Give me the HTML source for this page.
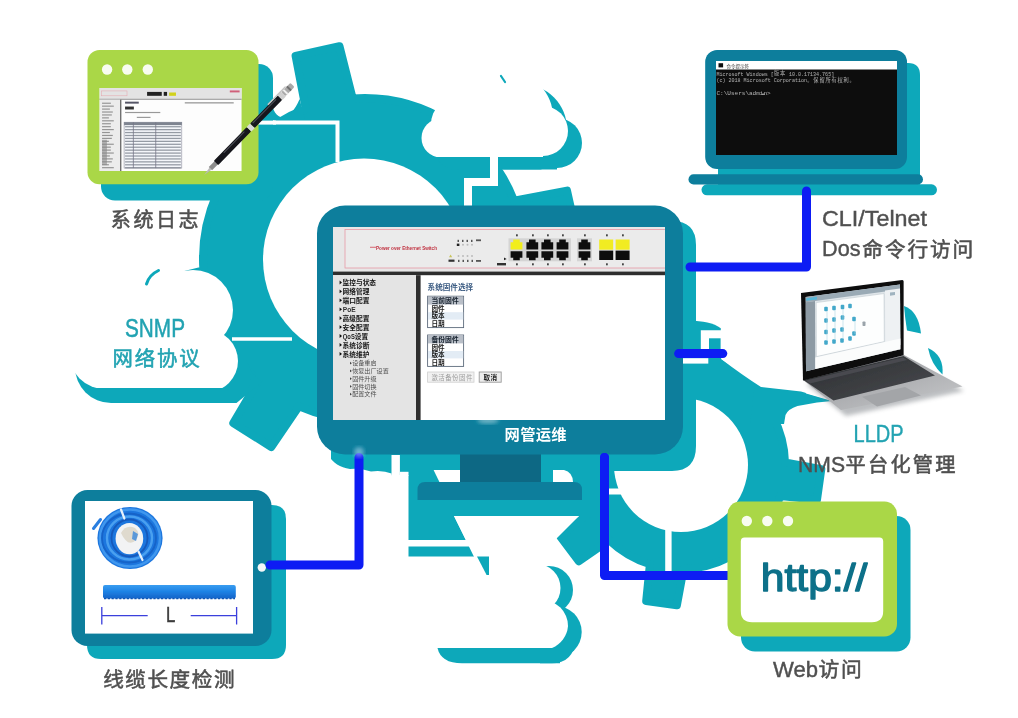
<!DOCTYPE html>
<html lang="zh-CN">
<head>
<meta charset="utf-8">
<title>网管运维</title>
<style>
html,body{margin:0;padding:0;background:#fff;}
body{width:1018px;height:718px;overflow:hidden;font-family:"Liberation Sans",sans-serif;}
svg{display:block;}
text{font-family:"Liberation Sans",sans-serif;}
text.mono{font-family:"Liberation Mono",monospace;}
text.cjk{font-family:"Liberation Sans","Noto Sans CJK SC",sans-serif;}
</style>
</head>
<body>
<svg width="1018" height="718" viewBox="0 0 1018 718">
<defs>

<clipPath id="cpA"><rect x="380" y="40" width="240" height="117"/></clipPath>
<clipPath id="cpAs"><rect x="380" y="40" width="240" height="129.5"/></clipPath>
<clipPath id="cpB"><rect x="40" y="240" width="230" height="148"/></clipPath>
<clipPath id="cpBs"><rect x="40" y="240" width="230" height="163"/></clipPath>
<clipPath id="cpScreen"><rect x="333" y="227" width="332" height="193"/></clipPath>
<filter id="blur05" x="-5%" y="-5%" width="110%" height="110%"><feGaussianBlur stdDeviation="0.5"/></filter>
<filter id="blur04" x="-5%" y="-5%" width="110%" height="110%"><feGaussianBlur stdDeviation="0.4"/></filter>
<filter id="blur08" x="-5%" y="-5%" width="110%" height="110%"><feGaussianBlur stdDeviation="0.8"/></filter>
<filter id="soft" filterUnits="userSpaceOnUse" x="-10" y="-10" width="1038" height="738"><feGaussianBlur stdDeviation="0.45"/></filter>
<filter id="blur2" x="-20%" y="-20%" width="140%" height="140%"><feGaussianBlur stdDeviation="2"/></filter>
<linearGradient id="cableG" x1="0" y1="0" x2="0" y2="1"><stop offset="0" stop-color="#3a9df0"/><stop offset="0.45" stop-color="#1f84e6"/><stop offset="1" stop-color="#1463c8"/></linearGradient>
<linearGradient id="kbG" x1="0" y1="0" x2="1" y2="1"><stop offset="0" stop-color="#2b2d30"/><stop offset="1" stop-color="#4a4c50"/></linearGradient>
<linearGradient id="baseG" x1="0" y1="0" x2="1" y2="1"><stop offset="0" stop-color="#8f9195"/><stop offset="1" stop-color="#c9cacc"/></linearGradient>

</defs>
<g filter="url(#soft)">
<rect width="1018" height="718" fill="#fff"/>
<path d="M352.7 98.4L339.5 46.2L295.6 56.0L305.8 108.9A161 161 0 0 0 242.4 153.4L196.2 125.9L172.1 163.9L216.7 194.0A161 161 0 0 0 203.4 270.3L151.2 283.5L161.0 327.4L213.9 317.2A161 161 0 0 0 258.4 380.6L233.3 423.0L271.3 447.1L299.0 406.3A161 161 0 0 0 375.3 419.6L388.5 471.8L432.4 462.0L422.2 409.1A161 161 0 0 0 485.6 364.6L531.8 392.1L555.9 354.1L511.3 324.0A161 161 0 0 0 524.6 247.7L576.8 234.5L567.0 190.6L514.1 200.8A161 161 0 0 0 352.7 98.4Z" fill="#0ea8ba" stroke="#0ea8ba" stroke-width="8" stroke-linejoin="round"/>
<circle cx="364" cy="259.5" r="101" fill="#fff"/>
<path d="M271 98C272 111 277 117.2 282.5 117.2C289 117.2 295 110 299.6 99L305.2 120.6H271Z" fill="#0ea8ba"/>
<path d="M258 122.6H337.5V162" fill="none" stroke="#fff" stroke-width="4"/>
<path d="M232 339H292" fill="none" stroke="#fff" stroke-width="3.5"/>
<path d="M773.2 416.8L801.7 393.4L783.1 368.7L752.7 389.7A104 104 0 0 0 632.8 372.8L609.4 344.3L584.7 362.9L605.7 393.3A104 104 0 0 0 581.8 433.9L545.0 430.2L540.7 460.9L577.0 467.6A104 104 0 0 0 588.8 513.2L560.3 536.6L578.9 561.3L609.3 540.3A104 104 0 0 0 649.9 564.2L646.2 601.0L676.9 605.3L683.6 569.0A104 104 0 0 0 729.2 557.2L752.6 585.7L777.3 567.1L756.3 536.7A104 104 0 0 0 780.2 496.1L817.0 499.8L821.3 469.1L785.0 462.4A104 104 0 0 0 773.2 416.8Z" fill="#0ea8ba" stroke="#0ea8ba" stroke-width="8" stroke-linejoin="round"/>
<path d="M690 349.5H721.3V359L765 388V420H690Z" fill="#0ea8ba"/>
<path d="M755 383L761 387.5L801 392L832 401L817 402.5L797.5 406Q788 409 785.5 415L784 424H750Z" fill="#0ea8ba"/>
<circle cx="681" cy="465" r="67" fill="#fff"/>
<path d="M668.4 528V574" fill="none" stroke="#fff" stroke-width="6.4"/>
<path d="M608 491.5H625" fill="none" stroke="#fff" stroke-width="6"/>
<path d="M408.5 455H600V516H454L466 540H408.5Z" fill="#0ea8ba"/>
<path d="M408.5 546.6H470.5L475.5 556.6H408.5Z" fill="#0ea8ba"/>
<g clip-path="url(#cpAs)"><g fill="#0ea8ba"><circle cx="522" cy="129" r="45"/><circle cx="472" cy="136" r="27"/><circle cx="455" cy="150" r="19.5"/><circle cx="557" cy="143" r="25"/><rect x="455" y="120" width="102" height="50"/></g></g>
<g clip-path="url(#cpA)"><g fill="#fff"><circle cx="508" cy="117" r="45"/><circle cx="458" cy="124" r="27"/><circle cx="441" cy="138" r="19.5"/><circle cx="543" cy="131" r="25"/><rect x="441" y="120" width="102" height="37"/></g></g>
<path d="M501 76l4 6" stroke="#0ea8ba" stroke-width="2.2" stroke-linecap="round" fill="none"/>
<path d="M494 150V182H468V207" fill="none" stroke="#fff" stroke-width="8"/>
<path d="M230 352L262 382L236.5 403H222Z" fill="#0ea8ba"/>
<g clip-path="url(#cpBs)"><g fill="#0ea8ba"><circle cx="213" cy="375" r="31"/><circle cx="111" cy="367" r="36"/><circle cx="222" cy="376" r="29"/><rect x="111" y="340" width="102" height="63"/></g></g>
<g clip-path="url(#cpB)"><g fill="#fff"><circle cx="193" cy="310" r="40"/><circle cx="160" cy="306" r="43"/><circle cx="207" cy="361" r="31"/><circle cx="105" cy="353" r="36"/><rect x="105" y="330" width="102" height="58"/></g></g>
<path d="M146.5 284q2.5 -9 12 -13.5" stroke="#0ea8ba" stroke-width="3" stroke-linecap="round" fill="none"/>
<path d="M690 320.5C702 321 714 323 720.8 328.2V330.2H690Z" fill="#0ea8ba"/>
<rect x="690" y="330" width="10.8" height="30" fill="#0ea8ba"/>
<rect x="709" y="338.3" width="11.6" height="12" fill="#0ea8ba"/>
<path d="M721.5 296V359.3Q742 375 761 387L801 391.5L832 400.5H965V296Z" fill="#fff"/>
<path d="M904 306Q918.5 311 921 333.5L907 330.5Q905 318 904 306Z" fill="#0ea8ba"/>
<path d="M928 348Q944 355 942.5 374.5Q931 364 928 348Z" fill="#0ea8ba"/>
<g fill="#0ea8ba"><circle cx="549" cy="590" r="24"/><circle cx="555.7" cy="632" r="26"/><path d="M437.5 648H560V663.3H462Q441 663.3 437.5 648Z"/><path d="M540 640H576Q573 663.3 552 663.3H540Z"/></g>
<g fill="#fff"><circle cx="536.5" cy="588" r="24"/><path d="M520 600H542A26 26 0 0 1 568 626A26 26 0 0 1 552 648H520Z"/><path d="M454 516H579L556.5 538.5L549 566H478.5Z"/><rect x="436" y="572" width="100" height="76"/><path d="M484 560H540V600H470Z"/></g>
<path d="M477 556.6H489V575H486.6Z" fill="#0ea8ba"/>
<rect x="101" y="64" width="172" height="136.5" rx="14" ry="14" fill="#0ea8ba"/>
<path d="M256 122.6H276" stroke="#fff" stroke-width="4" fill="none"/>
<rect x="87.5" y="50" width="171" height="134.3" rx="12" ry="12" fill="#aad746"/>
<circle cx="107.1" cy="69.5" r="5.2" fill="#fff" fill-opacity="0.92"/>
<circle cx="127.3" cy="69.5" r="5.2" fill="#fff" fill-opacity="0.92"/>
<circle cx="147.8" cy="69.5" r="5.2" fill="#fff" fill-opacity="0.92"/>
<g id="syslog" transform="translate(99.6 88) scale(0.979 0.9765) translate(-98 -86)">
<rect x="98" y="86" width="145" height="85" fill="#fdfdfd"/>
<rect x="98" y="86" width="145" height="11" fill="#e3e3e3"/>
<rect x="98" y="97" width="145" height="1" fill="#8a8a8a"/>
<rect x="100" y="89" width="26" height="5" fill="none" stroke="#e6a0a8" stroke-width="0.5"/>
<rect x="146.5" y="90" width="15" height="4" fill="#222"/><rect x="163.5" y="90" width="3.4" height="4" fill="#222"/><rect x="169" y="90.6" width="7" height="3.4" fill="#d2d21c"/>
<rect x="231" y="88.5" width="10" height="2" fill="#d0607a"/>
<rect x="98" y="98" width="21" height="73" fill="#ececec"/>
<rect x="119" y="98" width="1.2" height="73" fill="#555"/>
<rect x="100.5" y="101" width="9" height="1.2" fill="#777" opacity="0.75"/>
<rect x="100.5" y="104" width="12" height="1.2" fill="#777" opacity="0.75"/>
<rect x="100.5" y="107" width="8" height="1.2" fill="#777" opacity="0.75"/>
<rect x="100.5" y="110" width="11" height="1.2" fill="#777" opacity="0.75"/>
<rect x="100.5" y="113" width="10" height="1.2" fill="#777" opacity="0.75"/>
<rect x="100.5" y="116" width="7" height="1.2" fill="#777" opacity="0.75"/>
<rect x="100.5" y="119" width="12" height="1.2" fill="#777" opacity="0.75"/>
<rect x="100.5" y="122" width="9" height="1.2" fill="#777" opacity="0.75"/>
<rect x="100.5" y="125" width="9" height="1.2" fill="#777" opacity="0.75"/>
<rect x="100.5" y="128" width="12" height="1.2" fill="#777" opacity="0.75"/>
<rect x="100.5" y="131" width="8" height="1.2" fill="#777" opacity="0.75"/>
<rect x="100.5" y="134" width="11" height="1.2" fill="#777" opacity="0.75"/>
<rect x="100.5" y="137" width="10" height="1.2" fill="#777" opacity="0.75"/>
<rect x="100.5" y="140" width="7" height="1.2" fill="#777" opacity="0.75"/>
<rect x="100.5" y="143" width="12" height="1.2" fill="#777" opacity="0.75"/>
<rect x="100.5" y="146" width="9" height="1.2" fill="#777" opacity="0.75"/>
<rect x="100.5" y="149" width="9" height="1.2" fill="#777" opacity="0.75"/>
<rect x="100.5" y="152" width="12" height="1.2" fill="#777" opacity="0.75"/>
<rect x="100.5" y="155" width="8" height="1.2" fill="#777" opacity="0.75"/>
<rect x="100.5" y="158" width="11" height="1.2" fill="#777" opacity="0.75"/>
<rect x="100.5" y="161" width="10" height="1.2" fill="#777" opacity="0.75"/>
<rect x="100.5" y="164" width="7" height="1.2" fill="#777" opacity="0.75"/>
<rect x="100.5" y="167" width="12" height="1.2" fill="#777" opacity="0.75"/>
<rect x="100.5" y="139" width="5" height="26" fill="#888" opacity="0.6"/>
<rect x="124" y="100" width="14" height="2" fill="#556"/>
<rect x="124" y="105" width="9" height="3" fill="#333"/>
<rect x="185" y="100.5" width="50" height="1.4" fill="#777" opacity="0.7"/>
<rect x="124" y="110.5" width="36" height="1.2" fill="#999"/>
<rect x="136" y="115.5" width="14" height="1.2" fill="#999"/>
<rect x="123" y="121" width="59" height="47" fill="#f4f6fa" stroke="#778" stroke-width="0.5"/>
<rect x="123" y="121" width="59" height="3" fill="#7e8490"/>
<rect x="124" y="125" width="57" height="1.3" fill="#5b6270" opacity="0.62"/>
<rect x="124" y="128" width="57" height="1.3" fill="#5b6270" opacity="0.62"/>
<rect x="124" y="131" width="57" height="1.3" fill="#5b6270" opacity="0.62"/>
<rect x="124" y="134" width="57" height="1.3" fill="#5b6270" opacity="0.62"/>
<rect x="124" y="137" width="57" height="1.3" fill="#5b6270" opacity="0.62"/>
<rect x="124" y="140" width="57" height="1.3" fill="#5b6270" opacity="0.62"/>
<rect x="124" y="143" width="57" height="1.3" fill="#5b6270" opacity="0.62"/>
<rect x="124" y="146" width="57" height="1.3" fill="#5b6270" opacity="0.62"/>
<rect x="124" y="149" width="57" height="1.3" fill="#5b6270" opacity="0.62"/>
<rect x="124" y="152" width="57" height="1.3" fill="#5b6270" opacity="0.62"/>
<rect x="124" y="155" width="57" height="1.3" fill="#5b6270" opacity="0.62"/>
<rect x="124" y="158" width="57" height="1.3" fill="#5b6270" opacity="0.62"/>
<rect x="124" y="161" width="57" height="1.3" fill="#5b6270" opacity="0.62"/>
<rect x="124" y="164" width="57" height="1.3" fill="#5b6270" opacity="0.62"/>
<rect x="124" y="167" width="57" height="1.3" fill="#5b6270" opacity="0.62"/>
<rect x="132" y="121" width="0.8" height="47" fill="#778"/><rect x="155" y="121" width="0.8" height="47" fill="#778"/>
</g>
<g id="pen" transform="translate(204.2 175) rotate(-45.6) scale(0.985 0.9)"><path d="M0 0L9 -1.6V1.6Z" fill="#b9b9b9"/><rect x="9" y="-2.6" width="8" height="5.2" fill="#8d8d8d"/><rect x="17" y="-3.4" width="48" height="6.8" rx="1" fill="#15161a"/><rect x="65" y="-3.7" width="5" height="7.4" fill="#d9d9d9"/><rect x="70" y="-3.5" width="40" height="7" rx="1" fill="#17181c"/><rect x="30" y="-2.4" width="30" height="1.2" fill="#5a5d66" opacity="0.8"/><rect x="72" y="-2.4" width="34" height="1.2" fill="#5a5d66" opacity="0.8"/><rect x="110" y="-3.8" width="5" height="7.6" fill="#cfcfcf"/><rect x="115" y="-3.3" width="13" height="6.6" rx="1.5" fill="#a9a9a9"/><rect x="117" y="-3.3" width="2" height="6.6" fill="#f0f0f0"/><rect x="122" y="-3.3" width="2" height="6.6" fill="#6f6f6f"/><rect x="96" y="-5" width="26" height="1.8" rx="0.9" fill="#c4c4c4"/></g>
<path d="M718 63H908Q920 63 920 75V190H718Z" fill="#0ea8ba"/>
<rect x="701.5" y="184.3" width="235.5" height="11" rx="5.5" ry="5.5" fill="#0ea8ba"/>
<rect x="705.2" y="50" width="201.8" height="119" rx="12" ry="12" fill="#087e9c"/>
<rect x="688.5" y="174.3" width="234.5" height="10.2" rx="5.1" ry="5.1" fill="#087e9c"/>
<rect x="716" y="61" width="181" height="94" fill="#0c0c0c"/>
<rect x="716" y="61" width="181" height="8.5" fill="#fff"/>
<rect x="718.5" y="63.2" width="4.6" height="4.2" fill="#111"/>
<g filter="url(#blur04)"><text class="cjk" x="726.6" y="67.6" font-size="4.5" fill="#333" textLength="22.5" lengthAdjust="spacing">命令提示符</text></g>
<g filter="url(#blur05)" opacity="0.72">
<text class="mono" x="716.40" y="75.6" font-size="5.03" fill="#ececec" textLength="57.38" lengthAdjust="spacingAndGlyphs" xml:space="preserve">Microsoft Windows [</text>
<text class="cjk" x="774.08" y="75.4" font-size="5.2" fill="#ececec" textLength="11.24" lengthAdjust="spacing">版本</text>
<text class="mono" x="785.86" y="75.6" font-size="5.03" fill="#ececec" textLength="48.32" lengthAdjust="spacingAndGlyphs" xml:space="preserve"> 10.0.17134.765]</text>
<text class="mono" x="716.40" y="82.4" font-size="5.03" fill="#ececec" textLength="90.60" lengthAdjust="spacingAndGlyphs" xml:space="preserve">(c) 2018 Microsoft Corporation</text>
<circle cx="808.20" cy="81.80000000000001" r="0.7" fill="none" stroke="#ececec" stroke-width="0.35"/><text class="cjk" x="813.34" y="82.2" font-size="5.2" fill="#ececec" textLength="35.4" lengthAdjust="spacing">保留所有权利</text><circle cx="850.48" cy="81.80000000000001" r="0.7" fill="none" stroke="#ececec" stroke-width="0.35"/>
<text class="mono" x="716.40" y="94.6" font-size="5.03" fill="#ececec" textLength="54.36" lengthAdjust="spacingAndGlyphs" xml:space="preserve">C:\Users\admin&gt;</text>
<rect x="762.10" y="93.6" width="2.6" height="1.2" fill="#f4f4f4"/>
</g>
<path d="M100 505H272Q286 505 286 519V645Q286 659 272 659H101Q87 659 87 645Z" fill="#0ea8ba"/>
<rect x="71.5" y="490" width="200" height="156" rx="16" ry="16" fill="#087e9c"/>
<rect x="85" y="501" width="168" height="132.6" fill="#fff"/>
<circle cx="261.8" cy="567.5" r="4.2" fill="#f4f7f8"/>
<g id="coil"><ellipse cx="130" cy="538" rx="32.6" ry="31" fill="#1d76de"/><ellipse cx="130" cy="538" rx="30" ry="28.5" fill="none" stroke="#3f97ee" stroke-width="2.6"/><ellipse cx="129" cy="538" rx="27" ry="24.5" fill="none" stroke="#1663c8" stroke-width="1.8"/><ellipse cx="129.5" cy="538" rx="22.5" ry="21.5" fill="none" stroke="#4aa0f0" stroke-width="2.4"/><ellipse cx="129.5" cy="538" rx="18" ry="18.5" fill="none" stroke="#1459ba" stroke-width="1.8"/><ellipse cx="129.4" cy="538.6" rx="13.8" ry="15.6" fill="#f2f3f4"/><path d="M121 533q5 -9 14 -5q6 5 1 12q-8 8 -15 -7z" fill="#d9d3c4" opacity="0.8"/><path d="M133 531l5 3l-2 7l-4 -2z" fill="#2e82dc" opacity="0.75"/><path d="M121 509.5l3.4 9" stroke="#e8f1fb" stroke-width="2.2" stroke-linecap="round"/><path d="M138.5 551.5l4 8.5" stroke="#e8f1fb" stroke-width="2.2" stroke-linecap="round"/><path d="M93.5 528.5l7 -9" stroke="#2a7fe0" stroke-width="3" stroke-linecap="round"/></g>
<rect x="103" y="585" width="132.8" height="13.6" rx="2" fill="url(#cableG)"/>
<path d="M104 598.6h131" stroke="#0f55b4" stroke-width="1.4" stroke-dasharray="2.2 1.6"/>
<path d="M101.8 607V624.5M236.6 607V624.5M101.8 615.7H147.7M190.7 615.7H236.6" stroke="#3a3fdc" stroke-width="1.3" fill="none"/>
<text x="165.9" y="621.8" font-size="22.5" fill="#3c3c3c" stroke="#3c3c3c" stroke-width="0.5" textLength="9.3" lengthAdjust="spacingAndGlyphs">L</text>
<path d="M345 221H672Q696 221 696 245V446Q696 471 672 471H600V475H345Q331 475 331 459V440Z" fill="#0ea8ba"/>
<path d="M433.6 470H460V482H439.4Z" fill="#fff"/>
<path d="M553 470H564Q572.5 472 573 482H553Z" fill="#fff"/>
<rect x="391.5" y="455" width="8.4" height="21" fill="#fff"/><rect x="399.9" y="471.8" width="8.6" height="4" fill="#fff"/>
<path d="M328 455C333 463 340 467.5 350 469Q361 468 371 471.5Q383 470 391.6 473.6V482H328Z" fill="#fff"/>
<rect x="460" y="450" width="81" height="32" rx="0" ry="0" fill="#076884"/>
<path d="M425 482H574Q582 482 582 490V500H417.5V490Q417.5 482 425 482Z" fill="#087e9c"/>
<rect x="317" y="205.5" width="366" height="249" rx="28" ry="28" fill="#087e9c"/>
<rect x="683" y="358.2" width="25.3" height="5.4" fill="#fff"/>
<path d="M806.5 191V267H690" fill="none" stroke="#0f1df4" stroke-width="9" stroke-linecap="round" stroke-linejoin="round"/>
<path d="M678.6 353.6H722.8" fill="none" stroke="#0f1df4" stroke-width="9" stroke-linecap="round" stroke-linejoin="round" stroke-width="7.7"/>
<path d="M359 457.5V565H270" fill="none" stroke="#0f1df4" stroke-width="9" stroke-linecap="round" stroke-linejoin="round"/>
<path d="M604.5 457.5V575.5H728" fill="none" stroke="#0f1df4" stroke-width="9" stroke-linecap="round" stroke-linejoin="round" stroke-linecap="butt"/>
<circle cx="604.5" cy="457.5" r="4.5" fill="#0f1df4"/>
<rect x="741" y="516" width="169.5" height="135.6" rx="14" ry="14" fill="#0ea8ba"/>
<rect x="727.5" y="501.5" width="169.5" height="135" rx="12.5" ry="12.5" fill="#aad746"/>
<path d="M744.5 537.5H879.5Q883.2 537.5 883.2 541.5V611Q883.2 622.2 872 622.2H752Q740.8 622.2 740.8 611V541.5Q740.8 537.5 744.5 537.5Z" fill="#fff"/>
<circle cx="746.8" cy="521" r="5.2" fill="#fff" fill-opacity="0.92"/>
<circle cx="767.3" cy="521" r="5.2" fill="#fff" fill-opacity="0.92"/>
<circle cx="788" cy="521" r="5.2" fill="#fff" fill-opacity="0.92"/>
<text x="760.8" y="590.8" font-size="38" fill="#0b7089" stroke="#0b7089" stroke-width="1.3" stroke-linejoin="round" textLength="106.6" lengthAdjust="spacingAndGlyphs">http://</text>
<g id="macbook">
<path d="M806 384L906 360L964 391L846 416Z" fill="#6b7076" opacity="0.45" filter="url(#blur2)"/>
<path d="M802.5 379.5L904 355L962.5 386.5L841 410Z" fill="url(#baseG)"/>
<path d="M803.5 380L903.5 356L935 375.5L833.5 400.5Z" fill="url(#kbG)"/>
<path d="M806 380.6L903 357.6L907 360L810 383.4Z" fill="#4a4d52" opacity="0.9"/>
<path d="M862 396.8L905 387L921 395.6L877 406.6Z" fill="#a3a5a8"/>
<path d="M801 293L902.4 280Q903.6 280 903.6 281.5L903.6 355.3L803 380.4Z" fill="#0d0e10"/>
<path d="M805.7 297L900 284.4L900.4 349.3L806 371.3Z" fill="#dfe5e9"/>
<path d="M805.7 297L900 284.4L900.05 289.6L805.75 302.2Z" fill="#9aaab5"/>
<path d="M805.75 302.2L815 301L815.3 369.1L806 371.3Z" fill="#8d9aa4"/>
<path d="M806.2 298.2L817 296.8L817 299.4L806.2 300.8Z" fill="#58b7d8"/>
<path d="M816.2 302.6L884 293.6L884.3 341.6L816.4 356.6Z" fill="#fdfefe" stroke="#b9c2c9" stroke-width="0.5"/>
<path d="M885 290.6L900 288.6L900.35 345L885.3 348.4Z" fill="#eef1f3"/>
<path d="M886.5 347L899 344.2L899.1 349.6L886.6 352.6Z" fill="#3f4246"/>
<path d="M815.3 357.6L900.38 338.5L900.4 349.3L815.35 369.1Z" fill="#fbfcfc"/>
<path d="M890 292.6l5 -0.7l0 3l-5 0.8z" fill="#9fb3bf"/>
<rect x="824.2" y="306.8" width="3.6" height="4.4" rx="1" fill="#2f9fc4" opacity="0.9"/>
<rect x="832.2" y="305.8" width="3.6" height="4.4" rx="1" fill="#2f9fc4" opacity="0.9"/>
<rect x="840.7" y="304.8" width="3.6" height="4.4" rx="1" fill="#2f9fc4" opacity="0.9"/>
<rect x="848.2" y="303.8" width="3.6" height="4.4" rx="1" fill="#2f9fc4" opacity="0.9"/>
<rect x="824.2" y="318.3" width="3.6" height="4.4" rx="1" fill="#2f9fc4" opacity="0.9"/>
<rect x="832.2" y="317.3" width="3.6" height="4.4" rx="1" fill="#2f9fc4" opacity="0.9"/>
<rect x="840.7" y="315.3" width="3.6" height="4.4" rx="1" fill="#2f9fc4" opacity="0.9"/>
<rect x="852.2" y="316.8" width="3.6" height="4.4" rx="1" fill="#2f9fc4" opacity="0.9"/>
<rect x="824.2" y="329.8" width="3.6" height="4.4" rx="1" fill="#2f9fc4" opacity="0.9"/>
<rect x="832.2" y="328.3" width="3.6" height="4.4" rx="1" fill="#2f9fc4" opacity="0.9"/>
<rect x="840.2" y="327.3" width="3.6" height="4.4" rx="1" fill="#2f9fc4" opacity="0.9"/>
<rect x="852.2" y="331.3" width="3.6" height="4.4" rx="1" fill="#2f9fc4" opacity="0.9"/>
<rect x="824.2" y="340.3" width="3.6" height="4.4" rx="1" fill="#2f9fc4" opacity="0.9"/>
<rect x="832.2" y="339.3" width="3.6" height="4.4" rx="1" fill="#2f9fc4" opacity="0.9"/>
<rect x="840.2" y="338.3" width="3.6" height="4.4" rx="1" fill="#2f9fc4" opacity="0.9"/>
<rect x="848.2" y="336.3" width="3.6" height="4.4" rx="1" fill="#2f9fc4" opacity="0.9"/>
<rect x="862.5" y="321.5" width="3" height="4.6" rx="0.8" fill="#9aa3aa"/>
<path d="M827 311V341M835 310V340M843 309V339M855 321V334" stroke="#a9d4e4" stroke-width="0.7" fill="none" opacity="0.8"/>
</g>
<g id="screen" clip-path="url(#cpScreen)">
<rect x="333" y="227" width="332" height="193" fill="#fff"/>
<rect x="333" y="227" width="332" height="45" fill="#e7e7e7"/>
<rect x="345" y="229.5" width="330" height="38.5" fill="#ebebeb" stroke="#e79aa6" stroke-width="0.8"/>
<rect x="333" y="271.6" width="332" height="3.6" fill="#2f2f2f"/>
<g filter="url(#blur04)">
<rect x="370" y="246.8" width="6" height="0.8" fill="#d04050"/>
<text x="376" y="249.6" font-size="5.6" font-weight="bold" fill="#c0303f" textLength="61" lengthAdjust="spacingAndGlyphs">Power over Ethernet Switch</text>
<g fill="#555"><rect x="457.5" y="239.8" width="1.5" height="2.2"/><rect x="462" y="239.8" width="1.5" height="2.2"/><rect x="466.5" y="239.8" width="1.5" height="2.2"/><rect x="471" y="239.8" width="1.5" height="2.2"/><rect x="476" y="239.4" width="5" height="1.8"/><rect x="456.8" y="243.6" width="2.6" height="2.4" fill="#222"/><circle cx="463" cy="244.8" r="1" fill="#bbb"/><circle cx="467.5" cy="244.8" r="1" fill="#bbb"/><circle cx="472" cy="244.8" r="1" fill="#bbb"/><path d="M449 257.2l1.6 -2.6l1.6 2.6z" fill="#c9c45a"/><circle cx="458.5" cy="256" r="1" fill="#bbb"/><circle cx="463" cy="256" r="1" fill="#bbb"/><circle cx="467.5" cy="256" r="1" fill="#bbb"/><circle cx="472" cy="256" r="1" fill="#bbb"/><rect x="448.5" y="259.6" width="6" height="2.2" fill="#333"/><rect x="458" y="259.8" width="1.5" height="2.2"/><rect x="462.5" y="259.8" width="1.5" height="2.2"/><rect x="467" y="259.8" width="1.5" height="2.2"/><rect x="471.5" y="259.8" width="1.5" height="2.2"/><rect x="476" y="260" width="5" height="1.8"/></g>
</g>
<g filter="url(#blur04)">
<rect x="508.5" y="238.3" width="62.5" height="23" fill="#d4d4d4"/>
<rect x="577" y="238.3" width="15" height="23" fill="#d4d4d4"/>
<path d="M510.6 242.2h2.6v-2.6h6.6v2.6h2.6v7.2h-11.8z" fill="#f2ee1e"/><path d="M510.6 251.2h11.8v6.6h-2.6v2.4h-6.6v-2.4h-2.6z" fill="#111"/><path d="M526.4 242.2h2.6v-2.6h6.6v2.6h2.6v7.2h-11.8z" fill="#111"/><path d="M526.4 251.2h11.8v6.6h-2.6v2.4h-6.6v-2.4h-2.6z" fill="#111"/><path d="M541.4 242.2h2.6v-2.6h6.6v2.6h2.6v7.2h-11.8z" fill="#111"/><path d="M541.4 251.2h11.8v6.6h-2.6v2.4h-6.6v-2.4h-2.6z" fill="#111"/><path d="M556.6 242.2h2.6v-2.6h6.6v2.6h2.6v7.2h-11.8z" fill="#111"/><path d="M556.6 251.2h11.8v6.6h-2.6v2.4h-6.6v-2.4h-2.6z" fill="#111"/><path d="M578.6 242.2h2.6v-2.6h6.6v2.6h2.6v7.2h-11.8z" fill="#111"/><path d="M578.6 251.2h11.8v6.6h-2.6v2.4h-6.6v-2.4h-2.6z" fill="#111"/>
<rect x="599.2" y="239.5" width="14" height="10.2" fill="#f1ec22"/><rect x="599.2" y="250.6" width="14" height="9.4" fill="#0e0e0e"/>
<rect x="615.6" y="239.5" width="14" height="10.2" fill="#f1ec22"/><rect x="615.6" y="250.6" width="14" height="9.4" fill="#0e0e0e"/>
<rect x="516" y="234.3" width="1.8" height="2" fill="#444"/><rect x="516" y="263.3" width="1.8" height="2" fill="#444"/>
<rect x="532" y="234.3" width="1.8" height="2" fill="#444"/><rect x="532" y="263.3" width="1.8" height="2" fill="#444"/>
<rect x="547" y="234.3" width="1.8" height="2" fill="#444"/><rect x="547" y="263.3" width="1.8" height="2" fill="#444"/>
<rect x="562" y="234.3" width="1.8" height="2" fill="#444"/><rect x="562" y="263.3" width="1.8" height="2" fill="#444"/>
<rect x="584" y="234.3" width="1.8" height="2" fill="#444"/><rect x="584" y="263.3" width="1.8" height="2" fill="#444"/>
<rect x="606" y="234.3" width="1.8" height="2" fill="#444"/><rect x="606" y="263.3" width="1.8" height="2" fill="#444"/>
<rect x="622" y="234.3" width="1.8" height="2" fill="#444"/><rect x="622" y="263.3" width="1.8" height="2" fill="#444"/>
<rect x="497" y="263" width="9" height="2.4" fill="#333"/><path d="M504 257.5l2.6 1.4l-2.6 1.4z" fill="#222"/>
</g>
<rect x="333" y="275.2" width="83" height="145" fill="#e4e4e4"/>
<rect x="416" y="275.2" width="4.6" height="145" fill="#2f2f2f"/>
<g filter="url(#blur04)">
<path d="M339.6 280.6l2.4 1.9l-2.4 1.9z" fill="#111"/>
<text class="cjk" x="342.6" y="285.2" font-size="6.7" font-weight="bold" fill="#151515">监控与状态</text>
<path d="M339.6 289.5l2.4 1.9l-2.4 1.9z" fill="#111"/>
<text class="cjk" x="342.6" y="294.12" font-size="6.7" font-weight="bold" fill="#151515">网络管理</text>
<path d="M339.6 298.4l2.4 1.9l-2.4 1.9z" fill="#111"/>
<text class="cjk" x="342.6" y="303.04" font-size="6.7" font-weight="bold" fill="#151515">端口配置</text>
<path d="M339.6 307.4l2.4 1.9l-2.4 1.9z" fill="#111"/>
<text x="342.8" y="312.0" font-size="6.6" font-weight="bold" fill="#333">PoE</text>
<path d="M339.6 316.3l2.4 1.9l-2.4 1.9z" fill="#111"/>
<text class="cjk" x="342.6" y="320.88" font-size="6.7" font-weight="bold" fill="#151515">高级配置</text>
<path d="M339.6 325.2l2.4 1.9l-2.4 1.9z" fill="#111"/>
<text class="cjk" x="342.6" y="329.8" font-size="6.7" font-weight="bold" fill="#151515">安全配置</text>
<path d="M339.6 334.1l2.4 1.9l-2.4 1.9z" fill="#111"/>
<text x="342.8" y="338.7" font-size="6.6" font-weight="bold" fill="#222" textLength="12" lengthAdjust="spacingAndGlyphs">QoS</text>
<text class="cjk" x="354.8" y="338.72" font-size="6.7" font-weight="bold" fill="#151515">设置</text>
<path d="M339.6 343.0l2.4 1.9l-2.4 1.9z" fill="#111"/>
<text class="cjk" x="342.6" y="347.64" font-size="6.7" font-weight="bold" fill="#151515">系统诊断</text>
<path d="M339.6 352.0l2.4 1.9l-2.4 1.9z" fill="#111"/>
<text class="cjk" x="342.6" y="356.56" font-size="6.7" font-weight="bold" fill="#151515">系统维护</text>
<path d="M350 361.8l1.8 1.4l-1.8 1.4z" fill="#444"/>
<text class="cjk" x="352.2" y="365.4" font-size="6.1" fill="#4c4c4c">设备重启</text>
<path d="M350 369.5l1.8 1.4l-1.8 1.4z" fill="#444"/>
<text class="cjk" x="352.2" y="373.15" font-size="6.1" fill="#4c4c4c">恢复出厂设置</text>
<path d="M350 377.3l1.8 1.4l-1.8 1.4z" fill="#444"/>
<text class="cjk" x="352.2" y="380.9" font-size="6.1" fill="#4c4c4c">固件升级</text>
<path d="M350 385.0l1.8 1.4l-1.8 1.4z" fill="#444"/>
<text class="cjk" x="352.2" y="388.65" font-size="6.1" fill="#4c4c4c">固件切换</text>
<path d="M350 392.8l1.8 1.4l-1.8 1.4z" fill="#444"/>
<text class="cjk" x="352.2" y="396.4" font-size="6.1" fill="#4c4c4c">配置文件</text>
</g>
<g filter="url(#blur04)">
<text class="cjk" x="427.6" y="290.3" font-size="7.6" font-weight="bold" fill="#3b5b82">系统固件选择</text>
<rect x="427.6" y="296.2" width="36" height="31.4" fill="#fff" stroke="#5d6b7c" stroke-width="0.9"/><rect x="428" y="296.59999999999997" width="35.2" height="8" fill="#b9bfc8"/><rect x="428" y="312.2" width="35.2" height="7.4" fill="#e3ecf5"/><text class="cjk" x="431.5" y="303.2" font-size="6.8" font-weight="bold" fill="#15202c">当前固件</text><text class="cjk" x="431.5" y="310.8" font-size="6.6" font-weight="bold" fill="#1a1a1a">固件</text><text class="cjk" x="431.5" y="318.4" font-size="6.6" font-weight="bold" fill="#1a1a1a">版本</text><text class="cjk" x="431.5" y="326" font-size="6.6" font-weight="bold" fill="#1a1a1a">日期</text>
<rect x="427.6" y="335" width="36" height="31.4" fill="#fff" stroke="#5d6b7c" stroke-width="0.9"/><rect x="428" y="335.4" width="35.2" height="8" fill="#b9bfc8"/><rect x="428" y="351" width="35.2" height="7.4" fill="#e3ecf5"/><text class="cjk" x="431.5" y="342" font-size="6.8" font-weight="bold" fill="#15202c">备份固件</text><text class="cjk" x="431.5" y="349.6" font-size="6.6" font-weight="bold" fill="#1a1a1a">固件</text><text class="cjk" x="431.5" y="357.2" font-size="6.6" font-weight="bold" fill="#1a1a1a">版本</text><text class="cjk" x="431.5" y="364.8" font-size="6.6" font-weight="bold" fill="#1a1a1a">日期</text>
<rect x="427.6" y="372" width="46.4" height="10.2" fill="#f1f1f1" stroke="#cfcfcf" stroke-width="0.8"/>
<text class="cjk" x="431.4" y="379.8" font-size="6.4" fill="#9c9c9c" textLength="40.9" lengthAdjust="spacing">激活备份固件</text>
<rect x="479.2" y="372" width="22" height="10.2" fill="#ededed" stroke="#9a9a9a" stroke-width="0.9"/>
<text class="cjk" x="483.4" y="379.8" font-size="6.6" font-weight="bold" fill="#222" textLength="13.8" lengthAdjust="spacing">取消</text>
</g>
</g>
<text class="cjk" x="504.6" y="439.6" font-size="15.3" font-weight="bold" fill="#fff" textLength="61.95" lengthAdjust="spacing">网管运维</text>
<ellipse cx="488" cy="420.5" rx="11" ry="3.2" fill="#fff" opacity="0.42" filter="url(#blur2)"/>
<ellipse cx="359" cy="452" rx="5" ry="5" fill="#cfe6ff" opacity="0.5" filter="url(#blur2)"/>
<g id="labels">
<text class="cjk" x="110.8" y="227" font-size="20" fill="#505050" stroke="#505050" stroke-width="0.56" textLength="87.8" lengthAdjust="spacing">系统日志</text>
<text x="125" y="336.6" font-size="25.5" fill="#22a3b2" stroke="#22a3b2" stroke-width="0.5" textLength="60" lengthAdjust="spacingAndGlyphs">SNMP</text>
<text class="cjk" x="112.4" y="365.8" font-size="20.4" fill="#22a3b2" stroke="#22a3b2" stroke-width="0.55" textLength="87.3" lengthAdjust="spacing">网络协议</text>
<text x="822" y="226" font-size="22.5" fill="#505050" stroke="#505050" stroke-width="0.42" textLength="105" lengthAdjust="spacingAndGlyphs">CLI/Telnet</text>
<text x="822" y="256.4" font-size="22.5" fill="#505050" stroke="#505050" stroke-width="0.42" textLength="38.5" lengthAdjust="spacingAndGlyphs">Dos</text>
<text class="cjk" x="862.3" y="256.6" font-size="20.7" fill="#505050" stroke="#505050" stroke-width="0.56" textLength="110.9" lengthAdjust="spacing">命令行访问</text>
<text x="853.6" y="441.6" font-size="23" fill="#22a3b2" stroke="#22a3b2" stroke-width="0.4" textLength="50" lengthAdjust="spacingAndGlyphs">LLDP</text>
<text x="798" y="472" font-size="21.5" fill="#505050" stroke="#505050" stroke-width="0.42" textLength="47" lengthAdjust="spacingAndGlyphs">NMS</text>
<text class="cjk" x="845.6" y="472" font-size="20.2" fill="#505050" stroke="#505050" stroke-width="0.55" textLength="109.8" lengthAdjust="spacing">平台化管理</text>
<text x="773" y="677.2" font-size="21.8" fill="#505050" stroke="#505050" stroke-width="0.42" textLength="45" lengthAdjust="spacingAndGlyphs">Web</text>
<text class="cjk" x="818.6" y="677.2" font-size="20.8" fill="#505050" stroke="#505050" stroke-width="0.54" textLength="43.2" lengthAdjust="spacing">访问</text>
<text class="cjk" x="103.2" y="686.7" font-size="20.6" fill="#505050" stroke="#505050" stroke-width="0.56" textLength="131.3" lengthAdjust="spacing">线缆长度检测</text>
</g>
</g>
</svg>
</body>
</html>
